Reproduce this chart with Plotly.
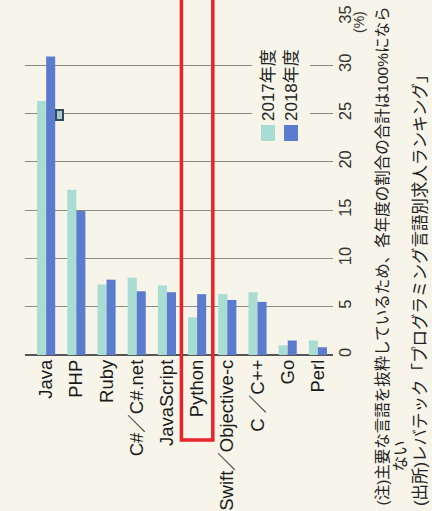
import plotly.graph_objects as go

W, H = 432, 511

categories = ["Java", "PHP", "Ruby", "C#／C#.net", "JavaScript", "Python",
              "Swift／Objective-c", "C ／C++", "Go", "Perl"]
values_2017 = [26.3, 17.1, 7.3, 8.0, 7.2, 3.9, 6.3, 6.5, 1.0, 1.5]
values_2018 = [30.9, 14.9, 7.8, 6.6, 6.5, 6.3, 5.7, 5.5, 1.5, 0.8]
series_names = ["2017年度", "2018年度"]
y_ticks = [0, 5, 10, 15, 20, 25, 30, 35]
note_line1 = "(注)主要な言語を抜粋しているため、各年度の割合の合計は100%になら"
note_line2 = "ない"
source_line = "(出所)レバテック「プログラミング言語別求人ランキング」"
highlight = "Python"

C17 = "#a9dcd2"
C18 = "#5b7bcf"
BG = "#f7f5e9"
FONT = "Liberation Sans, Arial, Noto Sans CJK JP, sans-serif"

def px(x):
    return x / W

def py(y):
    return 1 - y / H

fig = go.Figure()
fig.add_trace(go.Bar(x=categories, y=values_2017, name=series_names[0],
                     marker=dict(color=C17, line=dict(width=0))))
fig.add_trace(go.Bar(x=categories, y=values_2018, name=series_names[1],
                     marker=dict(color=C18, line=dict(width=0))))

fig.update_layout(
    width=W, height=H,
    margin=dict(l=0, r=0, t=0, b=0),
    paper_bgcolor=BG, plot_bgcolor=BG,
    showlegend=False,
    barmode="group", bargap=0.4, bargroupgap=0.0,
    font=dict(family=FONT, color="#222"),
    xaxis=dict(domain=[px(25), px(333)], range=[-0.7, 9.5],
               tickangle=-90, tickfont=dict(size=18.5, color="#1a1a1a"),
               showgrid=False, ticks="", showline=False, automargin=False,
               zeroline=False),
    yaxis=dict(domain=[py(355), py(17)], range=[0, 35], side="right",
               tickvals=y_ticks, ticktext=[str(v) for v in y_ticks],
               tickangle=-90, tickfont=dict(size=16.5, color="#333"),
               showgrid=True, gridcolor="#8a8a86", gridwidth=1,
               ticks="", zeroline=True, zerolinecolor="#555", zerolinewidth=2,
               automargin=False, showline=False),
)

shapes = []
# legend box (masks gridlines)
shapes.append(dict(type="rect", xref="paper", yref="paper",
                   x0=px(252), x1=px(310), y0=py(146), y1=py(38),
                   fillcolor=BG, line=dict(width=0), layer="above"))
shapes.append(dict(type="rect", xref="paper", yref="paper",
                   x0=px(261), x1=px(275), y0=py(141), y1=py(125),
                   fillcolor=C17, line=dict(width=0), layer="above"))
shapes.append(dict(type="rect", xref="paper", yref="paper",
                   x0=px(284), x1=px(298), y0=py(141), y1=py(125),
                   fillcolor=C18, line=dict(width=0), layer="above"))
# small marker near Java
shapes.append(dict(type="rect", xref="paper", yref="paper",
                   x0=px(56), x1=px(63), y0=py(120), y1=py(110),
                   fillcolor="#a9c9cf", line=dict(width=2, color="#2f4a5a"),
                   layer="above"))
# red highlight around Python
hi = categories.index(highlight)
shapes.append(dict(type="rect", xref="x", yref="paper",
                   x0=hi - 0.52, x1=hi + 0.52, y0=py(440), y1=1.05,
                   fillcolor="rgba(0,0,0,0)", line=dict(width=3.5, color="#e8232a"),
                   layer="above"))
fig.update_layout(shapes=shapes)

ann = []
ann.append(dict(text=series_names[0], xref="paper", yref="paper",
                x=px(268), y=py(123), xanchor="center", yanchor="bottom",
                textangle=-90, showarrow=False, font=dict(size=17, color="#222")))
ann.append(dict(text=series_names[1], xref="paper", yref="paper",
                x=px(291), y=py(123), xanchor="center", yanchor="bottom",
                textangle=-90, showarrow=False, font=dict(size=17, color="#222")))
ann.append(dict(text="(%)", xref="paper", yref="paper",
                x=px(359), y=py(22), xanchor="center", yanchor="middle",
                textangle=-90, showarrow=False, font=dict(size=14, color="#333")))
ann.append(dict(text=note_line1, xref="paper", yref="paper",
                x=px(382), y=py(508), xanchor="center", yanchor="bottom",
                textangle=-90, showarrow=False,
                font=dict(size=15.5, color="#222")))
ann.append(dict(text=note_line2, xref="paper", yref="paper",
                x=px(400), y=py(474), xanchor="center", yanchor="bottom",
                textangle=-90, showarrow=False,
                font=dict(size=15.5, color="#222")))
ann.append(dict(text=source_line, xref="paper", yref="paper",
                x=px(420), y=py(508), xanchor="center", yanchor="bottom",
                textangle=-90, showarrow=False,
                font=dict(size=16.5, color="#222")))
fig.update_layout(annotations=ann)

fig.write_html("out.html")
